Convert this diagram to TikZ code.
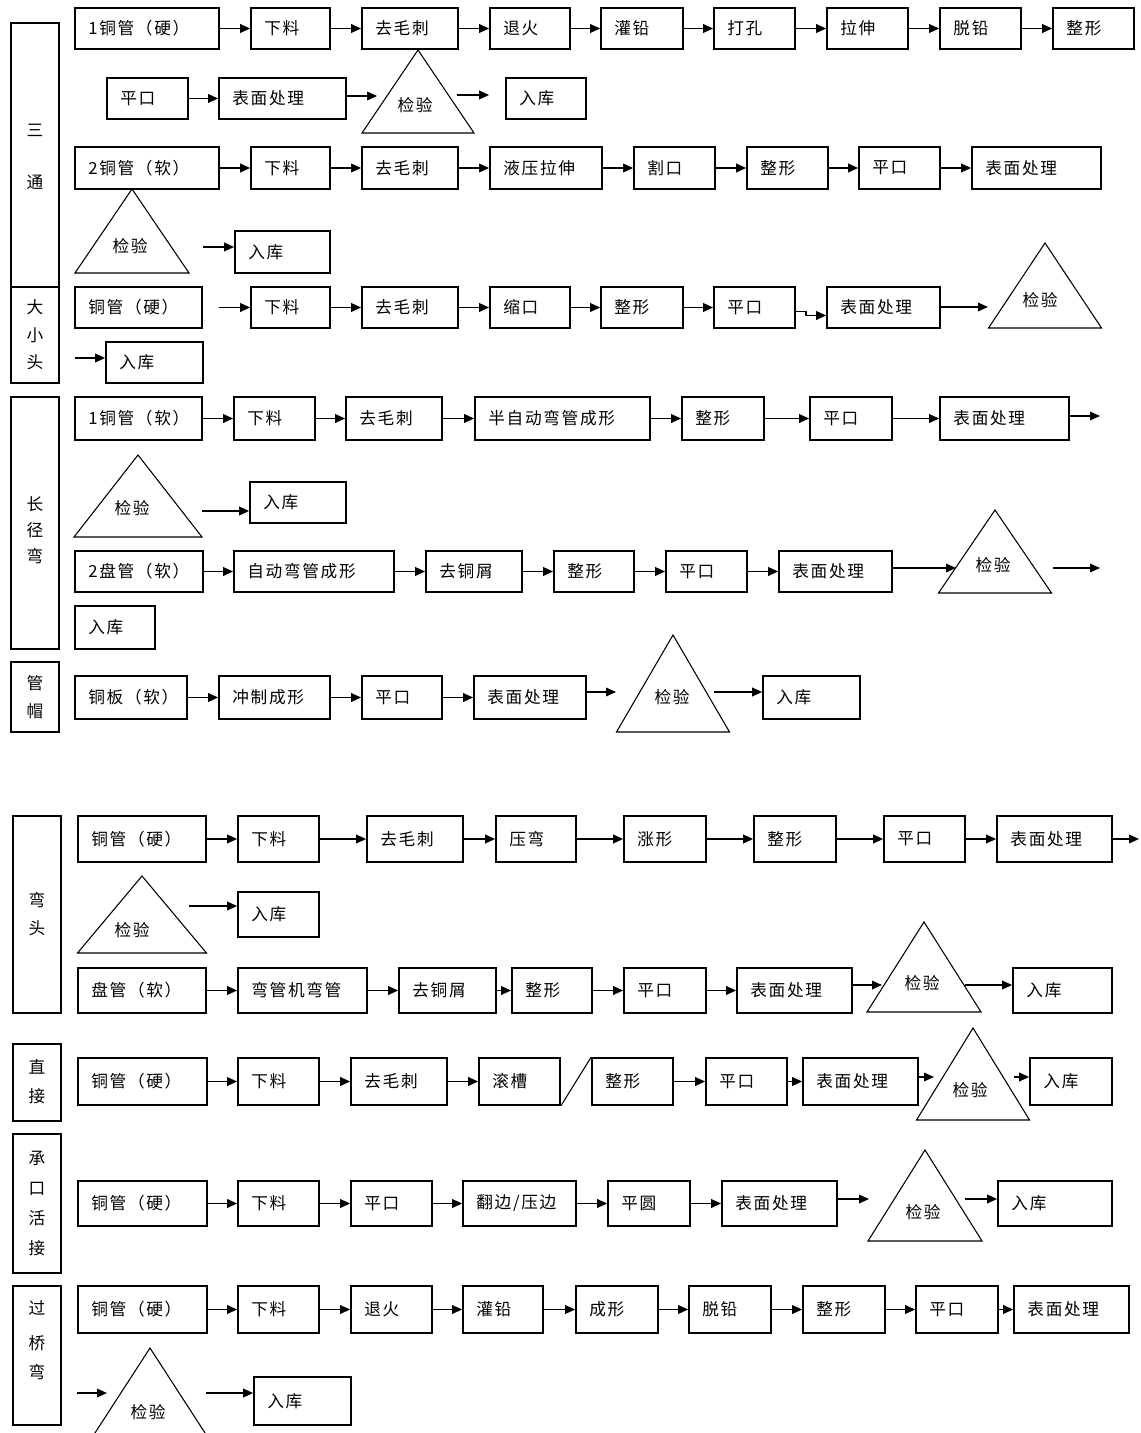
\documentclass[tikz,border=0pt]{standalone}
\usepackage{fontspec}
\setmainfont{Noto Sans CJK SC}[LetterSpace=10]
\usetikzlibrary{arrows.meta,calc}
\tikzset{
 bx/.style={draw, line width=1.3pt, inner sep=0pt},
 txt/.style={inner sep=0pt, font=\fontsize{12.5}{14}\selectfont},
 arr/.style={line width=1.1pt, -{Triangle[length=7.5pt,width=6.5pt]}},
 tri/.style={draw, line width=0.8pt, line join=miter},
}
\newcommand\bx[6]{\node[bx, minimum width={(#3-#2)*0.75pt}, minimum height={(#5-#4)*0.75pt}] (#1) at ({(#2+#3)/2},{(#4+#5)/2}) {};
\node[txt, anchor=west] (#1t) at ([xshift=10.5pt]#1.west) {#6};}
\newcommand\lbox[5]{\node[bx, minimum width={(#3-#2)*0.75pt}, minimum height={(#5-#4)*0.75pt}] (#1) at ({(#2+#3)/2},{(#4+#5)/2}) {};}
\newcommand\tri[7]{\draw[tri] (#2,#3) -- ({#2-#4},#5) -- ({#2+#4},#5) -- cycle;
\node[txt] (#1) at (#6,#7) {检验};}
\newcommand\lab[4]{\node[txt] (#1) at (#2,#3) {#4};}
\begin{document}
\begin{tikzpicture}[x=0.75pt,y=-0.75pt]
\fill[white] (0,0) rectangle (1140,1433);
\useasboundingbox (0,0) rectangle (1140,1433);

% ---------- label boxes
\lbox{LA}{11}{59}{23}{287}
\lbox{LB}{11}{59}{287}{383}
\lbox{LC}{11}{59}{397}{649}
\lbox{LD}{11}{59}{662}{732}
\lbox{LE}{13}{61}{816}{1013}
\lbox{LF}{13}{61}{1044}{1121}
\lbox{LG}{13}{61}{1134}{1273}
\lbox{LH}{13}{61}{1286}{1425}
\lab{LA1}{35}{130}{三} \lab{LA2}{35}{182}{通}
\lab{LB1}{35}{307}{大} \lab{LB2}{35}{335}{小} \lab{LB3}{35}{362}{头}
\lab{LC1}{35}{504}{长} \lab{LC2}{35}{530}{径} \lab{LC3}{35}{556}{弯}
\lab{LD1}{35}{683}{管} \lab{LD2}{35}{711}{帽}
\lab{LE1}{37}{900}{弯} \lab{LE2}{37}{928}{头}
\lab{LF1}{37}{1067}{直} \lab{LF2}{37}{1096}{接}
\lab{LG1}{37}{1158}{承} \lab{LG2}{37}{1189}{口} \lab{LG3}{37}{1218}{活} \lab{LG4}{37}{1248}{接}
\lab{LH1}{37}{1308}{过} \lab{LH2}{37}{1343}{桥} \lab{LH3}{37}{1372}{弯}

% ---------- 三通
\bx{A1a}{75}{219}{8}{49}{1铜管（硬）}
\bx{A1b}{251}{330}{8}{49}{下料}
\bx{A1c}{362}{458}{8}{49}{去毛刺}
\bx{A1d}{490}{570}{8}{49}{退火}
\bx{A1e}{601}{683}{8}{49}{灌铅}
\bx{A1f}{714}{795}{8}{49}{打孔}
\bx{A1g}{827}{908}{8}{49}{拉伸}
\bx{A1h}{940}{1021}{8}{49}{脱铅}
\bx{A1i}{1053}{1134}{8}{49}{整形}
\foreach \a/\b in {A1a/A1b,A1b/A1c,A1c/A1d,A1d/A1e,A1e/A1f,A1f/A1g,A1g/A1h,A1h/A1i}
  \draw[arr] (\a.east) -- (\b.west);

\bx{A2a}{107}{188}{78}{119}{平口}
\bx{A2b}{219}{346}{78}{119}{表面处理}
\tri{TA2}{418}{50}{56}{133}{415}{105}
\bx{A2c}{506}{586}{78}{119}{入库}
\draw[arr] (A2a.east) -- (A2b.west);
\coordinate (iA2) at (377,96);
\coordinate (oA2) at (457,95);
\draw[arr] (A2b.east |- iA2) -- (iA2);
\draw[arr, shorten >=12pt] (oA2) -- (A2c.west |- oA2);

\bx{A3a}{75}{219}{147}{189}{2铜管（软）}
\bx{A3b}{251}{330}{147}{189}{下料}
\bx{A3c}{362}{458}{147}{189}{去毛刺}
\bx{A3d}{490}{602}{147}{189}{液压拉伸}
\bx{A3e}{634}{715}{147}{189}{割口}
\bx{A3f}{747}{828}{147}{189}{整形}
\bx{A3g}{859}{940}{147}{189}{平口}
\bx{A3h}{972}{1101}{147}{189}{表面处理}
\foreach \a/\b in {A3a/A3b,A3b/A3c,A3c/A3d,A3d/A3e,A3e/A3f,A3f/A3g,A3g/A3h}
  \draw[arr] (\a.east) -- (\b.west);

\tri{TA4}{132}{189}{57}{273}{130}{246}
\bx{A4a}{235}{330}{231}{273}{入库}
\coordinate (oA4) at (203,247);
\draw[arr] (oA4) -- (A4a.west |- oA4);

% ---------- 大小头
\bx{B1a}{75}{202}{287}{328}{铜管（硬）}
\bx{B1b}{251}{330}{287}{328}{下料}
\bx{B1c}{362}{458}{287}{328}{去毛刺}
\bx{B1d}{490}{570}{287}{328}{缩口}
\bx{B1e}{601}{683}{287}{328}{整形}
\bx{B1f}{714}{795}{287}{328}{平口}
\bx{B1g}{827}{940}{287}{328}{表面处理}
\draw[arr, shorten <=12pt] (B1a.east) -- (B1b.west);
\foreach \a/\b in {B1b/B1c,B1c/B1d,B1d/B1e,B1e/B1f}
  \draw[arr] (\a.east) -- (\b.west);
\draw[arr] ([yshift=-3pt]B1f.east) -- ++(10,0) -- ++(0,4) -- ([yshift=-6pt]B1g.west);
\tri{TB}{1045}{243}{56.5}{328}{1040}{300}
\coordinate (iB) at (988,307);
\draw[arr] (B1g.east |- iB) -- (iB);
\coordinate (sB2) at (75,358);
\bx{B2a}{106}{203}{342}{383}{入库}
\draw[arr] (sB2) -- (B2a.west |- sB2);

% ---------- 长径弯
\bx{C1a}{75}{202}{397}{440}{1铜管（软）}
\bx{C1b}{234}{315}{397}{440}{下料}
\bx{C1c}{346}{442}{397}{440}{去毛刺}
\bx{C1d}{475}{650}{397}{440}{半自动弯管成形}
\bx{C1e}{682}{764}{397}{440}{整形}
\bx{C1f}{810}{892}{397}{440}{平口}
\bx{C1g}{940}{1069}{397}{440}{表面处理}
\foreach \a/\b in {C1a/C1b,C1b/C1c,C1c/C1d,C1d/C1e,C1e/C1f,C1f/C1g}
  \draw[arr] (\a.east) -- (\b.west);
\coordinate (eC1) at (1100,416);
\draw[arr] (C1g.east |- eC1) -- (eC1);

\tri{TC2}{138}{455}{64}{537}{132}{508}
\bx{C2a}{250}{346}{482}{523}{入库}
\coordinate (oC2) at (202,511);
\draw[arr] (oC2) -- (C2a.west |- oC2);

\bx{C3a}{75}{203}{551}{592}{2盘管（软）}
\bx{C3b}{234}{394}{551}{592}{自动弯管成形}
\bx{C3c}{426}{522}{551}{592}{去铜屑}
\bx{C3d}{554}{634}{551}{592}{整形}
\bx{C3e}{666}{747}{551}{592}{平口}
\bx{C3f}{779}{892}{551}{592}{表面处理}
\foreach \a/\b in {C3a/C3b,C3b/C3c,C3c/C3d,C3d/C3e,C3e/C3f}
  \draw[arr] (\a.east) -- (\b.west);
\tri{TC3}{995}{510}{56.5}{593}{993}{565}
\coordinate (iC3) at (956,568);
\draw[arr] (C3f.east |- iC3) -- (iC3);
\coordinate (oC3) at (1053,568);
\coordinate (eC3) at (1100,568);
\draw[arr] (oC3) -- (eC3);
\bx{C4a}{75}{155}{606}{649}{入库}

% ---------- 管帽
\bx{D1}{75}{187}{676}{719}{铜板（软）}
\bx{D2}{219}{330}{676}{719}{冲制成形}
\bx{D3}{362}{442}{676}{719}{平口}
\bx{D4}{474}{586}{676}{719}{表面处理}
\foreach \a/\b in {D1/D2,D2/D3,D3/D4}
  \draw[arr] (\a.east) -- (\b.west);
\tri{TD}{673}{635}{56.5}{732}{672}{697}
\coordinate (iD) at (616,692);
\draw[arr] (D4.east |- iD) -- (iD);
\bx{D5}{763}{860}{676}{719}{入库}
\coordinate (oD) at (714,692);
\draw[arr] (oD) -- (D5.west |- oD);

% ---------- 弯头
\bx{E1a}{78}{206}{816}{862}{铜管（硬）}
\bx{E1b}{238}{319}{816}{862}{下料}
\bx{E1c}{367}{463}{816}{862}{去毛刺}
\bx{E1d}{496}{576}{816}{862}{压弯}
\bx{E1e}{624}{706}{816}{862}{涨形}
\bx{E1f}{754}{836}{816}{862}{整形}
\bx{E1g}{884}{965}{816}{862}{平口}
\bx{E1h}{997}{1112}{816}{862}{表面处理}
\foreach \a/\b in {E1a/E1b,E1b/E1c,E1c/E1d,E1d/E1e,E1e/E1f,E1f/E1g,E1g/E1h}
  \draw[arr] (\a.east) -- (\b.west);
\coordinate (eE1) at (1139,839);
\draw[arr] (E1h.east |- eE1) -- (eE1);

\tri{TE2}{142}{876}{64.5}{953}{132}{930}
\bx{E2a}{238}{319}{892}{937}{入库}
\coordinate (oE2) at (189,906);
\draw[arr] (oE2) -- (E2a.west |- oE2);

\bx{E3a}{78}{206}{968}{1013}{盘管（软）}
\bx{E3b}{238}{367}{968}{1013}{弯管机弯管}
\bx{E3c}{399}{496}{968}{1013}{去铜屑}
\bx{E3d}{512}{592}{968}{1013}{整形}
\bx{E3e}{624}{706}{968}{1013}{平口}
\bx{E3f}{737}{852}{968}{1013}{表面处理}
\foreach \a/\b in {E3a/E3b,E3b/E3c,E3c/E3d,E3d/E3e,E3e/E3f}
  \draw[arr] (\a.east) -- (\b.west);
\tri{TE3}{924}{922}{57}{1012}{922}{983}
\coordinate (iE3) at (882,985);
\draw[arr] (E3f.east |- iE3) -- (iE3);
\bx{E3g}{1013}{1112}{968}{1013}{入库}
\coordinate (oE3) at (965,985);
\draw[arr] (oE3) -- (E3g.west |- oE3);

% ---------- 直接
\bx{F1}{78}{207}{1058}{1105}{铜管（硬）}
\bx{F2}{238}{319}{1058}{1105}{下料}
\bx{F3}{351}{447}{1058}{1105}{去毛刺}
\bx{F4}{479}{560}{1058}{1105}{滚槽}
\bx{F5}{592}{673}{1058}{1105}{整形}
\bx{F6}{706}{787}{1058}{1105}{平口}
\bx{F7}{803}{918}{1058}{1105}{表面处理}
\foreach \a/\b in {F1/F2,F2/F3,F3/F4,F5/F6,F6/F7}
  \draw[arr] (\a.east) -- (\b.west);
\draw[line width=0.8pt] (F4.south east) -- (F5.north west);
\tri{TF}{973}{1028}{56.5}{1120}{970}{1090}
\coordinate (iF) at (934,1077);
\draw[arr] (F7.east |- iF) -- (iF);
\bx{F8}{1030}{1112}{1058}{1105}{入库}
\coordinate (oF) at (1014,1077);
\draw[arr] (oF) -- (F8.west |- oF);

% ---------- 承口活接
\bx{G1}{78}{207}{1181}{1226}{铜管（硬）}
\bx{G2}{238}{319}{1181}{1226}{下料}
\bx{G3}{351}{432}{1181}{1226}{平口}
\bx{G4}{463}{576}{1181}{1226}{翻边/压边}
\bx{G5}{608}{690}{1181}{1226}{平圆}
\bx{G6}{722}{837}{1181}{1226}{表面处理}
\foreach \a/\b in {G1/G2,G2/G3,G3/G4,G4/G5,G5/G6}
  \draw[arr] (\a.east) -- (\b.west);
\tri{TG}{925}{1150}{57}{1241}{923}{1212}
\coordinate (iG) at (869,1199);
\draw[arr] (G6.east |- iG) -- (iG);
\bx{G7}{998}{1112}{1181}{1226}{入库}
\coordinate (oG) at (965,1199);
\draw[arr] (oG) -- (G7.west |- oG);

% ---------- 过桥弯
\bx{H1}{78}{207}{1286}{1333}{铜管（硬）}
\bx{H2}{238}{319}{1286}{1333}{下料}
\bx{H3}{351}{432}{1286}{1333}{退火}
\bx{H4}{463}{543}{1286}{1333}{灌铅}
\bx{H5}{576}{658}{1286}{1333}{成形}
\bx{H6}{689}{771}{1286}{1333}{脱铅}
\bx{H7}{803}{885}{1286}{1333}{整形}
\bx{H8}{916}{998}{1286}{1333}{平口}
\bx{H9}{1014}{1129}{1286}{1333}{表面处理}
\foreach \a/\b in {H1/H2,H2/H3,H3/H4,H4/H5,H5/H6,H6/H7,H7/H8,H8/H9}
  \draw[arr] (\a.east) -- (\b.west);
\coordinate (sH) at (77,1393);
\coordinate (iH) at (107,1393);
\draw[arr] (sH) -- (iH);
\tri{TH}{150}{1348}{57}{1436}{148}{1412}
\bx{HJ}{254}{351}{1377}{1425}{入库}
\coordinate (oH) at (206,1393);
\draw[arr] (oH) -- (HJ.west |- oH);
\end{tikzpicture}
\end{document}
